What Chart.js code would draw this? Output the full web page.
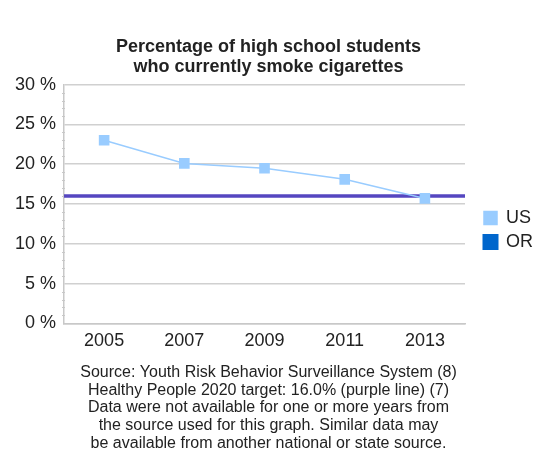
<!DOCTYPE html>
<html>
<head>
<meta charset="utf-8">
<script src="https://cdn.jsdelivr.net/npm/chart.js@4"></script>
<style>
    html, body { margin: 0; padding: 0; background: #fff; }
    #wrap { width: 537px; height: 455px; }
</style>
</head>
<body>
<div id="wrap"><canvas id="lineChart"></canvas></div>
<script>
const years = ['2005', '2007', '2009', '2011', '2013'];
const usValues = [23.0, 20.1, 19.5, 18.1, 15.7];
const orValues = [null, null, null, null, null];
const hp2020Target = 16.0;
const titleLines = ['Percentage of high school students', 'who currently smoke cigarettes'];
const footerLines = [
    'Source: Youth Risk Behavior Surveillance System (8)',
    'Healthy People 2020 target: 16.0% (purple line) (7)',
    'Data were not available for one or more years from',
    'the source used for this graph. Similar data may',
    'be available from another national or state source.'
];

Chart.defaults.font.family = '"Liberation Sans", Arial, sans-serif';
Chart.defaults.color = '#222';

// purple target line across the plot + small minor ticks on the y axis
const extras = {
    id: 'extras',
    afterLayout(chart) {
        // leave a gap between plot and legend like the original
        chart.legend.left += 13;
        chart.legend.right += 13;
    },
    beforeDatasetsDraw(chart) {
        const ctx = chart.ctx;
        const y = chart.scales.y;
        const area = chart.chartArea;
        ctx.save();
        ctx.strokeStyle = '#c8c8c8';
        ctx.lineWidth = 1;
        for (let v = 0; v <= 30; v++) {
            if (v % 5 === 0) continue;
            const py = Math.round(y.getPixelForValue(v)) + 0.5;
            ctx.beginPath();
            ctx.moveTo(area.left - 2, py);
            ctx.lineTo(area.left + 1, py);
            ctx.stroke();
        }
        const ty = y.getPixelForValue(hp2020Target);
        ctx.strokeStyle = '#5546c0';
        ctx.lineWidth = 3.5;
        ctx.beginPath();
        ctx.moveTo(area.left, ty);
        ctx.lineTo(area.right, ty);
        ctx.stroke();
        ctx.restore();
    }
};

document.addEventListener('DOMContentLoaded', function () {
    const ctx = document.getElementById('lineChart').getContext('2d');

    new Chart(ctx, {
        type: 'line',
        data: {
            labels: years,
            datasets: [{
                label: 'US',
                data: usValues,
                borderColor: '#99ccff',
                backgroundColor: '#99ccff',
                borderWidth: 1.5,
                pointStyle: 'rect',
                pointRadius: 7.5,
                pointBorderWidth: 0,
                fill: false
            }, {
                label: 'OR',
                data: orValues,
                borderColor: '#0066cc',
                backgroundColor: '#0066cc',
                pointStyle: 'rect',
                fill: false
            }]
        },
        options: {
            responsive: true,
            maintainAspectRatio: false,
            animation: false,
            layout: { padding: { left: 7, right: 7, top: 8, bottom: 3 } },
            scales: {
                x: {
                    offset: true,
                    grid: { display: false, drawTicks: false },
                    border: { color: '#c8c8c8', width: 1.5 },
                    ticks: { font: { size: 18 }, color: '#222', padding: 7 }
                },
                y: {
                    min: 0,
                    max: 30,
                    ticks: {
                        stepSize: 5,
                        font: { size: 18 },
                        color: '#222',
                        padding: 8,
                        callback: v => v + ' %'
                    },
                    grid: { color: '#d0d0d0', lineWidth: 1.5, drawTicks: false },
                    border: { color: '#c8c8c8', width: 1.5 }
                }
            },
            plugins: {
                title: {
                    display: true,
                    text: titleLines,
                    font: { size: 18, weight: 'bold', lineHeight: 1.1 },
                    color: '#222',
                    padding: { top: 29, bottom: 8 }
                },
                subtitle: {
                    display: true,
                    position: 'bottom',
                    text: footerLines,
                    font: { size: 16, lineHeight: 1.1 },
                    color: '#222',
                    padding: { top: 5, bottom: 0 }
                },
                legend: {
                    position: 'right',
                    labels: {
                        boxWidth: 13,
                        boxHeight: 13,
                        font: { size: 18 },
                        color: '#222',
                        padding: 6
                    }
                },
                tooltip: { enabled: false }
            }
        },
        plugins: [extras]
    });
});
</script>
</body>
</html>
